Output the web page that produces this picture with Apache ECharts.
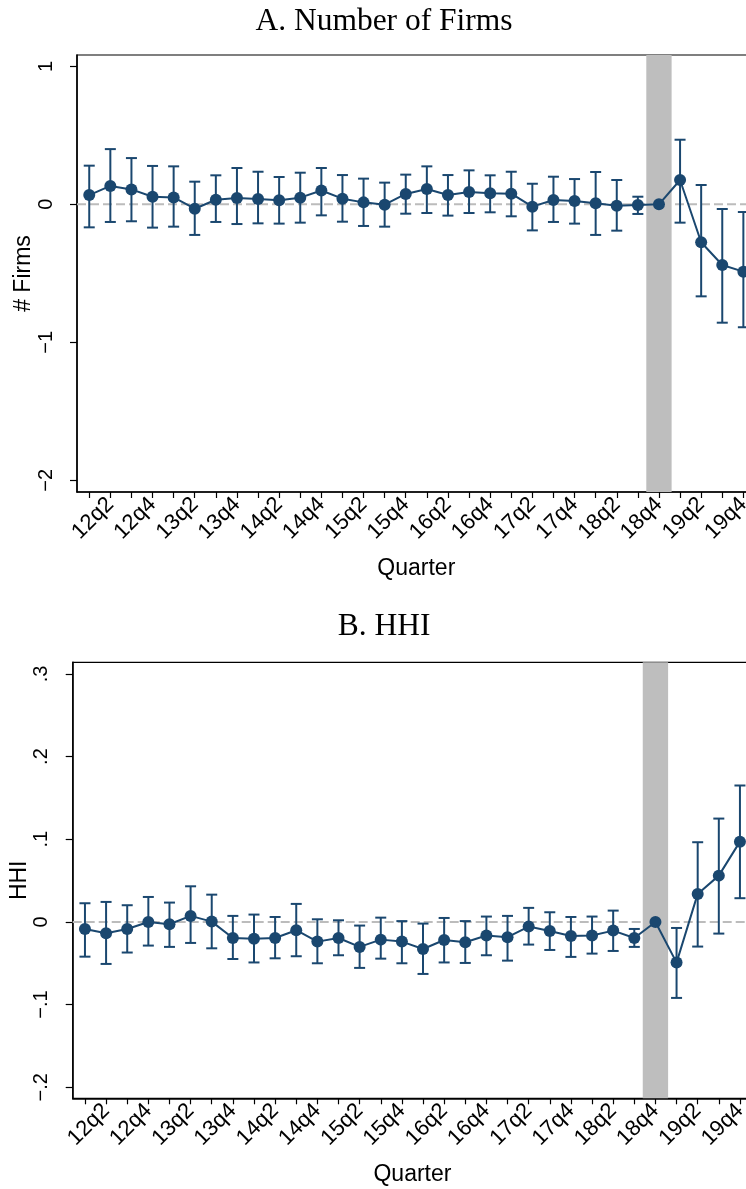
<!DOCTYPE html>
<html>
<head>
<meta charset="utf-8">
<script src="https://cdn.jsdelivr.net/npm/echarts@6/dist/echarts.min.js"></script>
<style>
  html, body { margin: 0; padding: 0; background: #fff; }
  #chart { width: 746px; height: 1189px; }
</style>
</head>
<body>
<div id="chart"></div>
<script>
// Quarters 2012q1 .. 2019q4
const quarters = [
  '12q1','12q2','12q3','12q4','13q1','13q2','13q3','13q4',
  '14q1','14q2','14q3','14q4','15q1','15q2','15q3','15q4',
  '16q1','16q2','16q3','16q4','17q1','17q2','17q3','17q4',
  '18q1','18q2','18q3','18q4','19q1','19q2','19q3','19q4'
];
// Reference (omitted) quarter
const eventQuarter = '18q4';

// Panel A: number of firms — coefficient and 95% CI bounds
const firmsEst = [0.067, 0.133, 0.108, 0.055, 0.050, -0.032, 0.033, 0.045,
  0.038, 0.029, 0.048, 0.100, 0.041, 0.014, -0.003, 0.075,
  0.111, 0.067, 0.089, 0.080, 0.077, -0.017, 0.031, 0.024,
  0.007, -0.010, -0.005, 0, 0.176, -0.275, -0.440, -0.488];
const firmsHi = [0.280, 0.400, 0.335, 0.278, 0.275, 0.164, 0.210, 0.263,
  0.236, 0.198, 0.229, 0.263, 0.212, 0.186, 0.157, 0.215,
  0.275, 0.212, 0.246, 0.210, 0.236, 0.149, 0.200, 0.183,
  0.234, 0.176, 0.055, null, 0.468, 0.140, -0.034, -0.056];
const firmsLo = [-0.167, -0.128, -0.123, -0.169, -0.162, -0.222, -0.128, -0.143,
  -0.138, -0.140, -0.133, -0.080, -0.126, -0.157, -0.162, -0.068,
  -0.063, -0.082, -0.063, -0.058, -0.087, -0.189, -0.128, -0.140,
  -0.222, -0.191, -0.070, null, -0.133, -0.667, -0.858, -0.891];
const firmsTicks = [1, 0, -1, -2];

// Panel B: HHI — coefficient and 95% CI bounds
const hhiEst = [-0.0085, -0.0137, -0.0085, 0.0000, -0.0028, 0.0073, 0.0004, -0.0194,
  -0.0202, -0.0194, -0.0100, -0.0238, -0.0194, -0.0302, -0.0214, -0.0238,
  -0.0327, -0.0218, -0.0246, -0.0165, -0.0185, -0.0056, -0.0109, -0.0169,
  -0.0165, -0.0105, -0.0194, 0, -0.0492, 0.0339, 0.0560, 0.0971];
const hhiHi = [0.0226, 0.0242, 0.0202, 0.0302, 0.0234, 0.0431, 0.0330, 0.0073,
  0.0089, 0.0060, 0.0218, 0.0032, 0.0020, -0.0044, 0.0052, 0.0010,
  -0.0020, 0.0048, 0.0010, 0.0065, 0.0073, 0.0170, 0.0117, 0.0060,
  0.0065, 0.0137, -0.0085, null, -0.0073, 0.0964, 0.1250, 0.1650];
const hhiLo = [-0.0420, -0.0508, -0.0370, -0.0286, -0.0302, -0.0254, -0.0319, -0.0448,
  -0.0490, -0.0440, -0.0415, -0.0500, -0.0403, -0.0556, -0.0444, -0.0500,
  -0.0629, -0.0490, -0.0496, -0.0403, -0.0468, -0.0274, -0.0339, -0.0423,
  -0.0383, -0.0351, -0.0302, null, -0.0919, -0.0298, -0.0141, 0.0287];
const hhiTicks = [0.3, 0.2, 0.1, 0, -0.1, -0.2];

const NAVY = '#1a476f';
const SANS = 'Liberation Sans';
const SERIF = 'Liberation Serif';

const idx = quarters.map((q, i) => i);
const labelIdx = idx.filter(i => quarters[i].endsWith('q2') || quarters[i].endsWith('q4'));
const eventIdx = quarters.indexOf(eventQuarter);

function fmtFirms(v) { return String(v).replace('-', '\u2212'); }
function fmtHhi(v) {
  if (v === 0) return '0';
  const s = String(Math.round(v * 10) / 10).replace('0.', '.');
  return s.replace('-', '\u2212');
}

function xAxisFor(gi) {
  return {
    type: 'value', gridIndex: gi, min: -0.58, max: 31.58,
    name: 'Quarter', nameLocation: 'middle', nameGap: 65, nameMoveOverlap: false,
    nameTextStyle: { fontFamily: SANS, fontSize: 23, color: '#000' },
    axisLine: { show: true, onZero: false, lineStyle: { color: '#000', width: 1.5 } },
    axisTick: { show: true, length: 6, customValues: idx, lineStyle: { color: '#000', width: 1.2 } },
    axisLabel: {
      customValues: labelIdx, rotate: 45, margin: 9,
      fontFamily: SANS, fontSize: 22, color: '#000',
      formatter: v => quarters[Math.round(v)]
    },
    splitLine: { show: false }
  };
}

function yAxisFor(gi, min, max, ticks, fmt, name) {
  return {
    type: 'value', gridIndex: gi, min: min, max: max,
    name: name, nameLocation: 'middle', nameGap: 42, nameMoveOverlap: false,
    nameTextStyle: { fontFamily: SANS, fontSize: 23, color: '#000' },
    axisLine: { show: true, onZero: false, lineStyle: { color: '#000', width: 1.5 } },
    axisTick: { show: true, length: 7, customValues: ticks, lineStyle: { color: '#000', width: 1.2 } },
    axisLabel: {
      customValues: ticks, rotate: 90, margin: 21,
      fontFamily: SANS, fontSize: 20, color: '#000',
      formatter: fmt
    },
    splitLine: { show: false }
  };
}

// Grey band marking the reference quarter
function bandSeries(gi) {
  return {
    type: 'custom', xAxisIndex: gi, yAxisIndex: gi, z: 2, silent: true,
    data: [[eventIdx]],
    renderItem: (params, api) => {
      const cs = params.coordSys;
      const x0 = api.coord([api.value(0) - 0.6, 0])[0];
      const x1 = api.coord([api.value(0) + 0.6, 0])[0];
      return { type: 'rect', shape: { x: x0, y: cs.y, width: x1 - x0, height: cs.height },
        style: { fill: '#bebebe' } };
    }
  };
}

// Dashed horizontal reference line at zero
function zeroSeries(gi) {
  return {
    type: 'custom', xAxisIndex: gi, yAxisIndex: gi, z: 1, silent: true,
    data: [[0]],
    renderItem: (params, api) => {
      const cs = params.coordSys;
      const y = api.coord([0, api.value(0)])[1];
      return { type: 'line', shape: { x1: cs.x, y1: y, x2: cs.x + cs.width, y2: y },
        style: { stroke: '#bcbcbc', lineWidth: 2, lineDash: [9, 4] } };
    }
  };
}

function ciSeries(gi, lo, hi) {
  const data = idx.filter(i => lo[i] !== null && hi[i] !== null).map(i => [i, lo[i], hi[i]]);
  return {
    type: 'custom', xAxisIndex: gi, yAxisIndex: gi, z: 3, silent: true,
    data: data, encode: { x: 0, y: [1, 2] },
    renderItem: (params, api) => {
      const pLo = api.coord([api.value(0), api.value(1)]);
      const pHi = api.coord([api.value(0), api.value(2)]);
      const w = 5.5;
      const st = { stroke: NAVY, lineWidth: 2 };
      return { type: 'group', children: [
        { type: 'line', shape: { x1: pLo[0], y1: pLo[1], x2: pHi[0], y2: pHi[1] }, style: st },
        { type: 'line', shape: { x1: pHi[0] - w, y1: pHi[1], x2: pHi[0] + w, y2: pHi[1] }, style: st },
        { type: 'line', shape: { x1: pLo[0] - w, y1: pLo[1], x2: pLo[0] + w, y2: pLo[1] }, style: st }
      ] };
    }
  };
}

function estSeries(gi, est) {
  return {
    type: 'line', xAxisIndex: gi, yAxisIndex: gi, z: 4, silent: true,
    data: idx.map(i => [i, est[i]]),
    symbol: 'circle', symbolSize: 12, showAllSymbol: true,
    lineStyle: { color: NAVY, width: 2 },
    itemStyle: { color: NAVY },
    animation: false
  };
}

const chart = echarts.init(document.getElementById('chart'), null, { renderer: 'canvas' });
chart.setOption({
  backgroundColor: '#fff',
  animation: false,
  title: [
    { text: 'A. Number of Firms', left: 384, top: 6, textAlign: 'center', padding: 0,
      textStyle: { fontFamily: SERIF, fontSize: 31.5, fontWeight: 'normal', color: '#000' } },
    { text: 'B. HHI', left: 384, top: 611, textAlign: 'center', padding: 0,
      textStyle: { fontFamily: SERIF, fontSize: 31.5, fontWeight: 'normal', color: '#000' } }
  ],
  grid: [
    { left: 77, top: 55, width: 678.6, height: 437, outerBoundsMode: 'none', containLabel: false,
      show: true, borderColor: '#000', borderWidth: 1.2, backgroundColor: '#fff' },
    { left: 72.7, top: 662.3, width: 679.5, height: 436, outerBoundsMode: 'none', containLabel: false,
      show: true, borderColor: '#000', borderWidth: 1.2, backgroundColor: '#fff' }
  ],
  xAxis: [xAxisFor(0), xAxisFor(1)],
  yAxis: [
    yAxisFor(0, -2.085, 1.082, firmsTicks, fmtFirms, '# Firms'),
    yAxisFor(1, -0.2133, 0.314, hhiTicks, fmtHhi, 'HHI')
  ],
  series: [
    zeroSeries(0), bandSeries(0), ciSeries(0, firmsLo, firmsHi), estSeries(0, firmsEst),
    zeroSeries(1), bandSeries(1), ciSeries(1, hhiLo, hhiHi), estSeries(1, hhiEst)
  ]
});
</script>
</body>
</html>
